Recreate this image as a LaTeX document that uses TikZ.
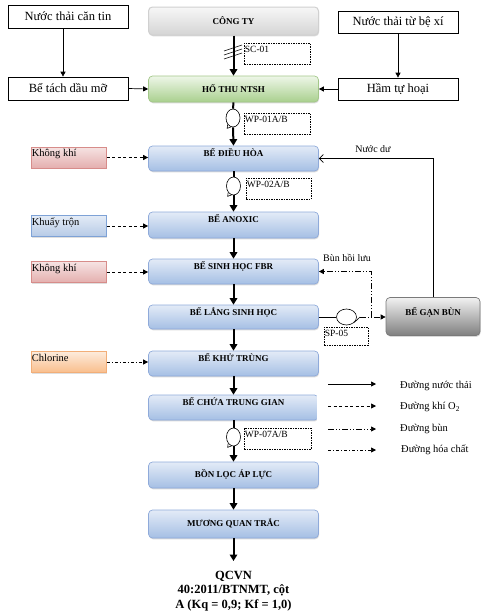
\documentclass[tikz,border=0pt]{standalone}
\usepackage{fontspec}
\setmainfont{Liberation Serif}
\usetikzlibrary{arrows.meta,shadows,shapes.geometric}
\definecolor{mbtop}{HTML}{E3EBF7}
\definecolor{mbbot}{HTML}{A5BFE4}
\definecolor{mbdraw}{HTML}{8FAADA}
\definecolor{grtop}{HTML}{EEF6E8}
\definecolor{grbot}{HTML}{A9D08E}
\definecolor{grdraw}{HTML}{A3C789}
\definecolor{gytop}{HTML}{F7F7F7}
\definecolor{gybot}{HTML}{D4D4D4}
\definecolor{gydraw}{HTML}{D0D0D0}
\definecolor{dgtop}{HTML}{F2F2F2}
\definecolor{dgbot}{HTML}{7F7F7F}
\definecolor{dgdraw}{HTML}{7A7A7A}
\definecolor{pktop}{HTML}{F6E3E3}
\definecolor{pkbot}{HTML}{E4AFAE}
\definecolor{pkdraw}{HTML}{D78C8A}
\definecolor{sbtop}{HTML}{E3EBF6}
\definecolor{sbbot}{HTML}{B6CAE6}
\definecolor{sbdraw}{HTML}{7EA2D6}
\definecolor{ortop}{HTML}{FDEBDC}
\definecolor{orbot}{HTML}{F9BE8C}
\definecolor{ordraw}{HTML}{F2AE78}
\tikzset{
  flowbox/.style={rounded corners=4pt, minimum width=170pt, inner sep=0pt, line width=0.7pt,
    drop shadow={shadow xshift=0.6pt, shadow yshift=-1.3pt, opacity=0.3}},
  bluebox/.style={flowbox, draw=mbdraw, top color=mbtop, bottom color=mbbot},
  greenbox/.style={flowbox, draw=grdraw, top color=grtop, bottom color=grbot},
  graybox/.style={flowbox, draw=gydraw, line width=1pt, top color=gytop, bottom color=gybot},
  darkbox/.style={flowbox, draw=dgdraw, top color=dgtop, bottom color=dgbot},
  sidebox/.style={minimum width=75.5pt, minimum height=21pt, inner sep=0pt, line width=0.7pt,
    drop shadow={shadow xshift=0.6pt, shadow yshift=-1.2pt, opacity=0.25}},
  pinkbox/.style={sidebox, draw=pkdraw, top color=pktop, bottom color=pkbot},
  sbluebox/.style={sidebox, draw=sbdraw, top color=sbtop, bottom color=sbbot},
  orangebox/.style={sidebox, draw=ordraw, top color=ortop, bottom color=orbot},
  srcbox/.style={draw, line width=0.7pt, fill=white, minimum width=120pt, inner sep=0pt,
    font=\fontsize{12.5}{14}\selectfont},
  lab/.style={inner sep=0pt, font=\bfseries\fontsize{9}{10}\selectfont},
  sidelab/.style={inner xsep=1pt, inner ysep=2.5pt, anchor=north west, font=\fontsize{10.5}{12}\selectfont},
  dbox/.style={draw, line width=0.6pt, dash pattern=on 1.5pt off 1pt, inner sep=0pt},
  dlab/.style={inner xsep=1pt, inner ysep=3.5pt, anchor=north west, font=\fontsize{9.5}{11}\selectfont},
  pumpshape/.style={ellipse, draw, line width=0.6pt, fill=white, minimum width=14pt, minimum height=18pt, inner sep=0pt},
  thickline/.style={line width=2pt},
  thickarrow/.style={line width=2pt, -{Triangle[length=6.5pt,width=7.5pt]}},
  thinarrow/.style={line width=0.7pt, -{Triangle[length=5pt,width=5pt]}},
  airarrow/.style={line width=0.7pt, dash pattern=on 3pt off 2.5pt, -{Triangle[length=5pt,width=5pt]}},
  chemarrow/.style={line width=0.7pt, dash pattern=on 3pt off 2pt on 1pt off 2pt, -{Triangle[length=5pt,width=5pt]}},
  bunline/.style={line width=0.7pt, dash pattern=on 6pt off 2pt on 1pt off 2pt on 1pt off 2pt},
  bunarrow/.style={bunline, -{Triangle[length=5pt,width=5pt]}},
  txt/.style={inner sep=0pt, font=\fontsize{10}{12}\selectfont},
  legtxt/.style={inner sep=0pt, anchor=west, font=\fontsize{10.5}{12}\selectfont}
}
\begin{document}
\begin{tikzpicture}[x=1pt,y=-1pt]
\useasboundingbox (0,0) rectangle (486,616);

% outer source boxes
\node[srcbox, minimum height=23pt] (cantin) at (68,16.5) {Nước thải căn tin};
\node[srcbox, minimum height=23pt] (tachdau) at (68,88.5) {Bể tách dầu mỡ};
\node[srcbox, minimum height=22pt] (bexi) at (398,22) {Nước thải từ bệ xí};
\node[srcbox, minimum height=22pt] (hamtu) at (398,89) {Hầm tự hoại};

% main column
\node[graybox, minimum height=28pt] (congty) at (233.5,21) {};
\node[lab] (tcongty) at (233.5,21) {CÔNG TY};
\node[greenbox, minimum height=26pt] (hothu) at (233.5,89) {};
\node[lab] (thothu) at (233.5,89) {HỐ THU NTSH};
\node[bluebox, minimum height=25pt] (dieuhoa) at (233.5,158.5) {};
\node[lab] (tdieuhoa) at (233.5,153) {BỂ ĐIỀU HÒA};
\node[bluebox, minimum height=26pt] (anoxic) at (233.5,225) {};
\node[lab] (tanoxic) at (233.5,218.5) {BỂ ANOXIC};
\node[bluebox, minimum height=25pt] (fbr) at (233.5,271.5) {};
\node[lab] (tfbr) at (233.5,266.5) {BỂ SINH HỌC FBR};
\node[bluebox, minimum height=24pt] (lang) at (233.5,317) {};
\node[lab] (tlang) at (233.5,312) {BỂ LẮNG SINH HỌC};
\node[bluebox, minimum height=25pt] (khutrung) at (233.5,363.5) {};
\node[lab] (tkhutrung) at (233.5,358) {BỂ KHỬ TRÙNG};
\begin{scope}
\clip (140,385) rectangle (316.5,430);
\node[bluebox, minimum height=25pt] (chua) at (233.5,407.5) {};
\end{scope}
\node[lab] (tchua) at (233.5,402) {BỂ CHỨA TRUNG GIAN};
\node[bluebox, minimum height=26pt] (bonloc) at (233.5,475) {};
\node[lab] (tbonloc) at (233.5,474) {BỒN LỌC ÁP LỰC};
\node[bluebox, minimum height=28pt] (muong) at (233.5,524) {};
\node[lab] (tmuong) at (233.5,523) {MƯƠNG QUAN TRẮC};
\node[darkbox, minimum width=94pt, minimum height=38pt] (ganbun) at (433,316.5) {};
\node[lab] (tganbun) at (433,312) {BỂ GẠN BÙN};

% side input boxes
\node[pinkbox] (kk1) at (68.75,157.5) {};
\node[sidelab] (tkk1) at (kk1.north west) {Không khí};
\node[sbluebox] (khuay) at (68.75,226) {};
\node[sidelab] (tkhuay) at (khuay.north west) {Khuấy trộn};
\node[pinkbox] (kk2) at (68.75,272) {};
\node[sidelab] (tkk2) at (kk2.north west) {Không khí};
\node[orangebox] (chl) at (68.75,362) {};
\node[sidelab] (tchl) at (chl.north west) {Chlorine};

% equipment tags
\node[dbox, minimum width=66pt, minimum height=21pt] (sc) at (277,53.5) {};
\node[dlab] (tsc) at (sc.north west) {SC-01};
\node[dbox, minimum width=66pt, minimum height=21pt] (wp1) at (277,123.5) {};
\node[dlab] (twp1) at (wp1.north west) {WP-01A/B};
\node[dbox, minimum width=65pt, minimum height=21pt] (wp2) at (278.5,188.5) {};
\node[dlab] (twp2) at (wp2.north west) {WP-02A/B};
\node[dbox, minimum width=67pt, minimum height=21pt] (wp7) at (277.5,438.5) {};
\node[dlab] (twp7) at (wp7.north west) {WP-07A/B};
\node[dbox, minimum width=44pt, minimum height=18pt] (sp) at (346,336) {};
\node[dlab] (tsp) at (sp.north west) {SP-05};

% pumps
\node[pumpshape] (p1) at (233,118) {};
\node[pumpshape] (p2) at (233.5,186) {};
\node[pumpshape] (p7) at (233.5,437) {};
\node[ellipse, draw, line width=0.6pt, fill=white, minimum width=20pt, minimum height=16pt, inner sep=0pt] (sv) at (346.5,317) {};
\coordinate (svt) at (360,317);

% main flow
\draw[thickarrow] (congty.south) -- (hothu.north);
\draw[line width=0.6pt] (224,51) -- (242,45) (224,55) -- (242,49) (224,59) -- (242,53);
\draw[thickline] (hothu.south) -- (p1.north);
\draw[thickarrow] (p1.south) -- (dieuhoa.north);
\draw[thickline] (dieuhoa.south) -- (p2.north);
\draw[thickarrow] (p2.south) -- (anoxic.north);
\draw[thickarrow] (anoxic.south) -- (fbr.north);
\draw[thickarrow] (fbr.south) -- (lang.north);
\draw[thickarrow] (lang.south) -- (khutrung.north);
\draw[thickarrow] (khutrung.south) -- (chua.north);
\draw[thickline] (chua.south) -- (p7.north);
\draw[thickarrow] (p7.south) -- (bonloc.north);
\draw[thickarrow] (bonloc.south) -- (muong.north);
\coordinate (qc) at (233.5,561);
\draw[thickarrow] (muong.south) -- (qc);
% pump feet
\foreach \p in {p1,p2,p7}{
  \draw[line width=0.6pt] (\p.230) -- ++(-0.5,4) -- ++(4,-1.5);
}

% side flows
\draw[thinarrow] ([xshift=-5pt]cantin.south) -- ([xshift=-5pt]tachdau.north);
\draw[thinarrow] (bexi.south) -- (hamtu.north);
\draw[thinarrow] (tachdau.east) -- (hothu.west);
\draw[thinarrow] (hamtu.west) -- (hothu.east);
\draw[airarrow] (kk1.east) -- (kk1.east -| dieuhoa.west);
\draw[airarrow] (khuay.east) -- (khuay.east -| anoxic.west);
\draw[airarrow] (kk2.east) -- (kk2.east -| fbr.west);
\draw[chemarrow] (chl.east) -- (chl.east -| khutrung.west);

% sludge
\draw[line width=0.7pt] (lang.east) -- (sv.west);
\draw[line width=0.6pt] (sv.-35) -- (svt);
\draw[bunarrow] (svt) -- (svt -| ganbun.west);
\coordinate (j1) at (371,317);
\draw[bunarrow] (j1) |- (fbr.east);
\node[txt] (tbun) at (347,258) {Bùn hồi lưu};

% overflow water
\draw[line width=0.7pt, -{Straight Barb[length=4pt,width=8pt]}] (ganbun.north) |- (dieuhoa.east);
\node[txt] (tnuocdu) at (373,149) {Nước dư};

% legend
\coordinate (l1a) at (328,384); \coordinate (l1b) at (376,384);
\coordinate (l2a) at (328,406); \coordinate (l2b) at (376,406);
\coordinate (l3a) at (328,429); \coordinate (l3b) at (376,429);
\coordinate (l4a) at (328,450); \coordinate (l4b) at (376,450);
\draw[thinarrow] (l1a) -- (l1b);
\draw[airarrow] (l2a) -- (l2b);
\draw[bunarrow] (l3a) -- (l3b);
\draw[chemarrow] (l4a) -- (l4b);
\node[legtxt] (lt1) at (400,386) {Đường nước thải};
\node[legtxt] (lt2) at (400,407) {Đường khí O\textsubscript{2}};
\node[legtxt] (lt3) at (400,429) {Đường bùn};
\node[legtxt] (lt4) at (401,450) {Đường hóa chất};

% standard
\node[inner sep=0pt, align=center, font=\bfseries\fontsize{12.5}{14.5}\selectfont] (qcvn) at (233.5,591)
  {QCVN\\40:2011/BTNMT, cột\\A (Kq = 0,9; Kf = 1,0)};
\end{tikzpicture}
\end{document}
